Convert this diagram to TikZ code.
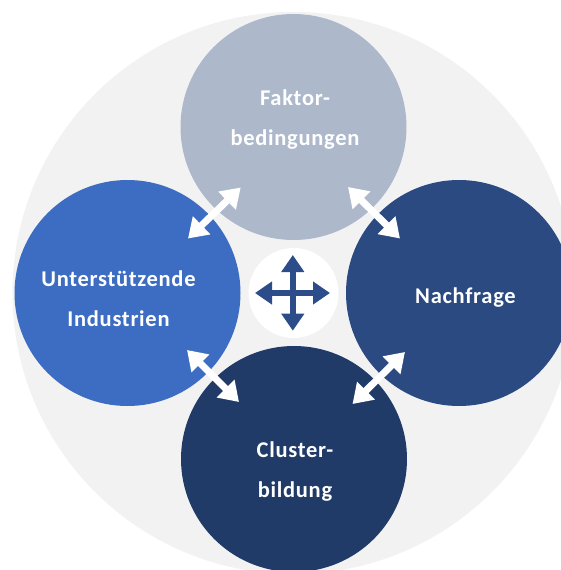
\documentclass[tikz,border=0pt]{standalone}
\usepackage{fontspec}
\setmainfont{Carlito}[LetterSpace=3.2]
\usetikzlibrary{arrows.meta}
\definecolor{bggrey}{HTML}{F2F2F2}
\definecolor{ctop}{HTML}{ADB9CB}
\definecolor{cleft}{HTML}{3D6DC2}
\definecolor{cright}{HTML}{2B4A81}
\definecolor{cbottom}{HTML}{213B69}
\definecolor{ccross}{HTML}{2C4D8A}
\tikzset{
  disc/.style={circle, inner sep=0pt, minimum size=226pt, draw=none},
  lbl/.style={anchor=base, text=white, inner sep=0pt, font=\fontsize{22.5pt}{26pt}\selectfont\bfseries},
  twoway/.style={white, line width=7pt, {Triangle[length=19pt,width=24pt]}-{Triangle[length=19pt,width=24pt]}},
  crossarrow/.style={ccross, line width=6pt, {Triangle[length=17pt,width=22pt]}-{Triangle[length=17pt,width=22pt]}}
}
\begin{document}
\begin{tikzpicture}[x=1pt,y=-1pt]
\clip (0,0) rectangle (561,570);
\fill[white] (0,0) rectangle (561,570);
\node[circle, inner sep=0pt, minimum size=562pt, fill=bggrey] (bg) at (293.5,293) {};
\node[disc, fill=ctop] (top) at (293.5,127) {};
\node[disc, fill=cleft] (left) at (127.5,293) {};
\node[disc, fill=cright] (right) at (459,293) {};
\node[disc, fill=cbottom] (bottom) at (294,459) {};
\node[circle, inner sep=0pt, minimum size=90pt, fill=white] (mid) at (293.5,293) {};
% text
\node[lbl] (t1) at (295,105.7) {Faktor-};
\node[lbl] (t2) at (295,145) {bedingungen};
\node[lbl] (l1) at (118.5,286.7) {Unterstützende};
\node[lbl] (l2) at (118.5,326.7) {Industrien};
\node[lbl] (r1) at (465.5,303) {Nachfrage};
\node[lbl] (b1) at (295,457) {Cluster-};
\node[lbl] (b2) at (295,497.5) {bildung};
% diagonal double arrows
\coordinate (tlA) at (240.7,187.5);
\coordinate (tlB) at (188,238.5);
\coordinate (trA) at (348,187);
\coordinate (trB) at (400,238.5);
\coordinate (blA) at (187,350);
\coordinate (blB) at (239,402);
\coordinate (brA) at (405,352);
\coordinate (brB) at (352.5,404);
\draw[twoway] (tlA) -- (tlB);
\draw[twoway] (trA) -- (trB);
\draw[twoway] (blA) -- (blB);
\draw[twoway] (brA) -- (brB);
% centre cross
\coordinate (cT) at (292.8,255);
\coordinate (cB) at (292.8,330.7);
\coordinate (cL) at (255,293);
\coordinate (cR) at (330,293);
\draw[crossarrow] (cT) -- (cB);
\draw[crossarrow] (cL) -- (cR);
\end{tikzpicture}
\end{document}
